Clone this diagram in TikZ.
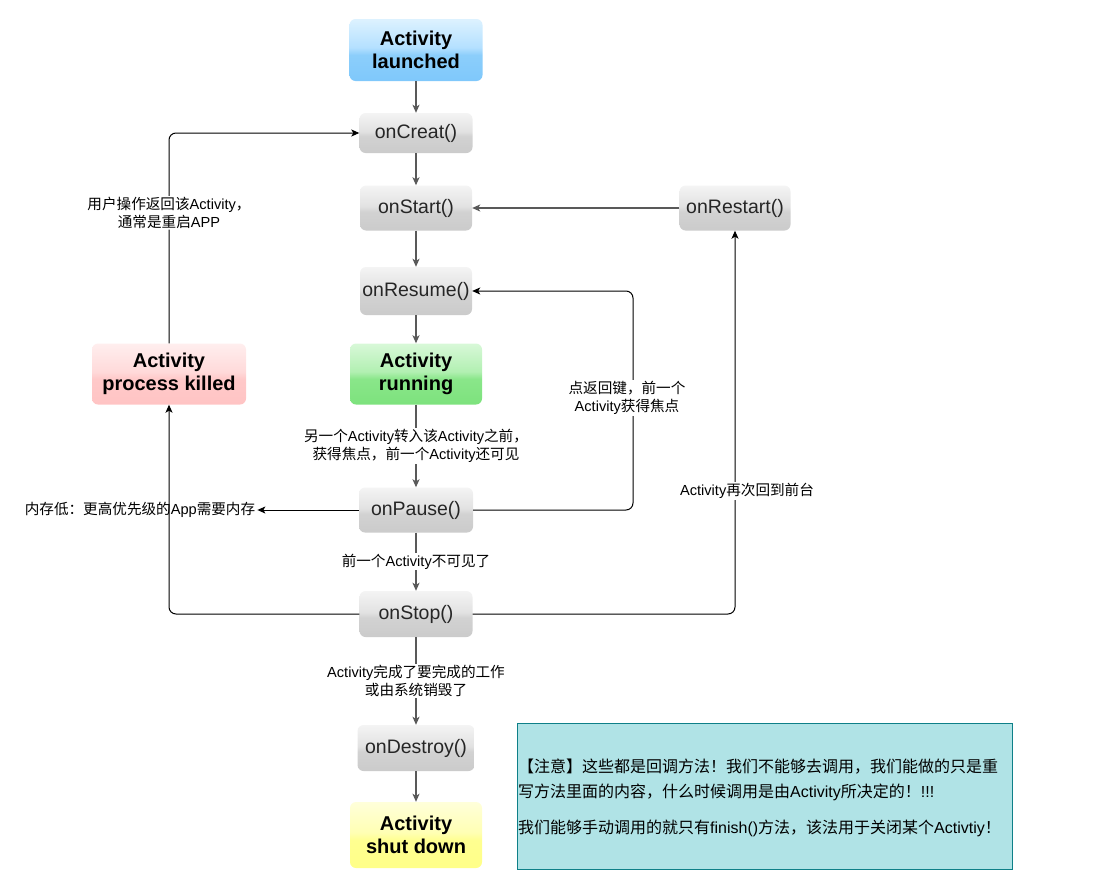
\documentclass[tikz,border=0pt]{standalone}
\usepackage{fontspec}
\setmainfont{Liberation Sans}
\newfontfamily\cjk{Noto Sans CJK SC}
\usetikzlibrary{arrows.meta}
\newcommand\zh[1]{{\cjk #1}}
\definecolor{gB}{HTML}{CBCBCB}
\definecolor{gM1}{HTML}{D2D2D2}
\definecolor{gM2}{HTML}{E2E2E2}
\definecolor{gT}{HTML}{F4F4F4}
\definecolor{bB}{HTML}{7FC8FB}
\definecolor{bM1}{HTML}{8CCEFB}
\definecolor{bM2}{HTML}{B4E0FF}
\definecolor{bT}{HTML}{DDF2FF}
\definecolor{grB}{HTML}{7DE27D}
\definecolor{grM1}{HTML}{8AE68A}
\definecolor{grM2}{HTML}{B2F0B2}
\definecolor{grT}{HTML}{D8F8D8}
\definecolor{pB}{HTML}{FFC4C4}
\definecolor{pM1}{HTML}{FFC9C9}
\definecolor{pM2}{HTML}{FFDADA}
\definecolor{pT}{HTML}{FFEEEE}
\definecolor{yB}{HTML}{FFFF88}
\definecolor{yM1}{HTML}{FFFF90}
\definecolor{yM2}{HTML}{FFFFB4}
\definecolor{yT}{HTML}{FFFFDA}
\definecolor{noteF}{HTML}{B0E3E6}
\definecolor{noteD}{HTML}{0E8088}
\pgfdeclareverticalshading{glassgray}{100bp}{color(0bp)=(gB); color(25bp)=(gB); color(46bp)=(gM1); color(52bp)=(gM2); color(75bp)=(gT); color(100bp)=(gT)}
\pgfdeclareverticalshading{glassblue}{100bp}{color(0bp)=(bB); color(25bp)=(bB); color(46bp)=(bM1); color(52bp)=(bM2); color(75bp)=(bT); color(100bp)=(bT)}
\pgfdeclareverticalshading{glassgreen}{100bp}{color(0bp)=(grB); color(25bp)=(grB); color(46bp)=(grM1); color(52bp)=(grM2); color(75bp)=(grT); color(100bp)=(grT)}
\pgfdeclareverticalshading{glasspink}{100bp}{color(0bp)=(pB); color(25bp)=(pB); color(46bp)=(pM1); color(52bp)=(pM2); color(75bp)=(pT); color(100bp)=(pT)}
\pgfdeclareverticalshading{glassyellow}{100bp}{color(0bp)=(yB); color(25bp)=(yB); color(46bp)=(yM1); color(52bp)=(yM2); color(75bp)=(yT); color(100bp)=(yT)}
\tikzset{
  base/.style={rounded corners=6pt, align=center, inner sep=2pt, shade},
  gnode/.style={base, shading=glassgray, font=\fontsize{19.5}{22}\selectfont, text=black!85},
  tnode/.style={base, font=\bfseries\fontsize{20}{23.5}\selectfont, text=black},
  lbl/.style={fill=white, font=\fontsize{14.6}{18}\selectfont, inner sep=1pt, align=center, text=black},
  tip/.style={-{Stealth[length=8pt,width=7pt,inset=2pt]}},
  mainc/.style={draw=black!65, line width=1.3pt, tip},
  conn/.style={draw=black, line width=1pt, tip, rounded corners=7pt},
}
\begin{document}
\begin{tikzpicture}[x=1pt,y=-1pt]
\useasboundingbox (0,0) rectangle (1111,894);
% nodes
\node[tnode, shading=glassblue, minimum width=133pt, minimum height=62pt] (launched) at (416,50) {Activity\\launched};
\node[gnode, minimum width=113pt, minimum height=40pt] (oncreat) at (416,133) {onCreat()};
\node[gnode, minimum width=112pt, minimum height=45pt] (onstart) at (416,208) {onStart()};
\node[gnode, minimum width=111pt, minimum height=45pt] (onrestart) at (735,208) {onRestart()};
\node[gnode, minimum width=112pt, minimum height=48pt] (onresume) at (416,291) {onResume()};
\node[tnode, shading=glassgreen, minimum width=132pt, minimum height=61pt] (running) at (416,374) {Activity\\running};
\node[tnode, shading=glasspink, minimum width=154pt, minimum height=61pt] (killed) at (169,374) {Activity\\process killed};
\node[gnode, minimum width=114pt, minimum height=45pt] (onpause) at (416,510) {onPause()};
\node[gnode, minimum width=113pt, minimum height=46pt] (onstop) at (416,614) {onStop()};
\node[gnode, minimum width=117pt, minimum height=46pt] (ondestroy) at (416,748) {onDestroy()};
\node[tnode, shading=glassyellow, minimum width=132pt, minimum height=66pt] (shut) at (416,835) {Activity\\shut down};
\node[font=\fontsize{14.6}{17}\selectfont, inner sep=2pt] (lowmem) at (140,510) {\zh{内存低：更高优先级的}App\zh{需要内存}};
% note
\node[draw=noteD, fill=noteF, line width=0.8pt, minimum width=495pt, minimum height=146pt, inner sep=0pt] (note) at (764.5,796) {};
\node[anchor=west, align=left, inner sep=0pt, font=\fontsize{16}{25}\selectfont] (notetext) at (518,798)
  {\zh{【注意】这些都是回调方法！我们不能够去调用，我们能做的只是重}\\
   \zh{写方法里面的内容，什么时候调用是由}Activity\zh{所决定的！}!!!\\[11pt]
   \zh{我们能够手动调用的就只有}finish()\zh{方法，该法用于关闭某个}Activtiy\zh{！}};
% main chain
\draw[mainc] (launched) -- (oncreat);
\draw[mainc] (oncreat) -- (onstart);
\draw[mainc] (onstart) -- (onresume);
\draw[mainc] (onresume) -- (running);
\draw[mainc] (running) -- node[lbl] {\zh{另一个}Activity\zh{转入该}Activity\zh{之前，}\\\zh{获得焦点，前一个}Activity\zh{还可见}} (onpause);
\draw[mainc] (onpause) -- node[lbl] {\zh{前一个}Activity\zh{不可见了}} (onstop);
\draw[mainc] (onstop) -- node[lbl] {Activity\zh{完成了要完成的工作}\\\zh{或由系统销毁了}} (ondestroy);
\draw[mainc] (ondestroy) -- (shut);
\draw[mainc] (onrestart) -- (onstart);
% side connectors
\coordinate (pr) at (633,291);
\draw[conn] (onpause.east) -| (pr) -- (onresume.east);
\node[lbl] (lblback) at (627,398) {\zh{点返回键，前一个}\\Activity\zh{获得焦点}};
\draw[conn] (onstop.east) -| (onrestart.south);
\node[lbl] (lblfront) at (747,491) {Activity\zh{再次回到前台}};
\draw[conn] (onpause.west) -- (lowmem.east);
\draw[conn] (onstop.west) -| (killed.south);
\draw[conn] (killed.north) |- node[lbl, pos=0.31] {\zh{用户操作返回该}Activity\zh{，}\\\zh{通常是重启}APP} (oncreat.west);
\end{tikzpicture}
\end{document}
